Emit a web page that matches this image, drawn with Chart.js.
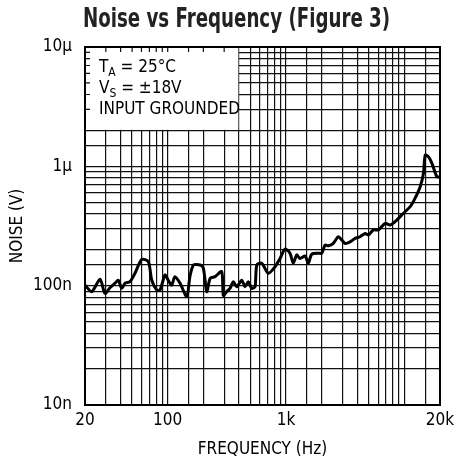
<!DOCTYPE html>
<html>
<head>
<meta charset="utf-8">
<script src="https://cdn.jsdelivr.net/npm/chart.js@4.4.1/dist/chart.umd.min.js"></script>
<style>
  html, body { margin: 0; padding: 0; background: #fff; }
  canvas { display: block; }
</style>
</head>
<body>
<canvas id="noise-chart" width="460" height="464"></canvas>
<script>
// frequency (Hz) and output noise (nV) along the measured trace
const freqHz = [20, 22.8, 26.8, 29.5, 32.5, 35.9, 38.2, 40.9, 43.6, 48,
    52.9, 60.3, 68.6, 73.3, 80.7, 86.1, 94.9, 101, 108, 115,
    127, 145, 154, 165, 188, 200, 214, 228, 251, 286,
    295, 315, 336, 359, 383, 422, 450, 480, 513, 547,
    566, 623, 709, 807, 890, 981, 1080, 1150, 1230, 1310,
    1450, 1540, 1650, 1880, 2000, 2140, 2280, 2510, 2770, 3150,
    3480, 3830, 4220, 4660, 4970, 5470, 6030, 6870, 7570, 8630,
    9810, 11200, 12300, 13600, 14500, 15000, 16000, 17100, 18800, 20000];
const noiseNv = [101, 89, 113, 86, 96, 105, 111, 95, 105, 108,
    127, 166, 159, 111, 92, 92, 123, 111, 101, 119,
    105, 81, 119, 149, 149, 140, 89, 115, 119, 131,
    83, 89, 95, 108, 98, 111, 98, 108, 95, 98,
    149, 154, 127, 144, 169, 203, 187, 154, 181, 169,
    177, 154, 184, 187, 187, 219, 216, 226, 257, 226,
    233, 249, 257, 274, 266, 293, 293, 333, 322, 355,
    404, 459, 539, 675, 874, 1240, 1200, 1060, 818, 818];

const xLabelAt = [20, 100, 1000, 20000];
const xLabelText = ['20', '100', '1k', '20k'];
const yLabelAt = [10, 100, 1000, 10000];
const yLabelText = ['10n', '100n', '1µ', '10µ'];

const chartTitle = 'Noise vs Frequency (Figure 3)';
const conditions = [
    ['T', 'A', ' = 25°C'],
    ['V', 'S', ' = ±18V'],
    ['INPUT GROUNDED', '', '']
];
// the conditions note hides the grid from 20Hz to 400Hz, 2µ to 10µ
const noteCornerHz = 400;
const noteCornerNv = 2000;

const FONT = "'Liberation Sans Narrow', 'DejaVu Sans Condensed', 'Liberation Sans', sans-serif";
Chart.defaults.font.family = FONT;
Chart.defaults.color = '#000';

const pickLabel = (at, text) => (value) => {
    const i = at.findIndex(v => Math.abs(v - value) / v < 1e-6);
    return i >= 0 ? text[i] : '';
};

const conditionsNote = {
    id: 'conditionsNote',
    beforeDatasetsDraw(chart) {
        const {ctx, chartArea, scales} = chart;
        const x0 = chartArea.left, y0 = chartArea.top;
        const x1 = scales.x.getPixelForValue(noteCornerHz);
        const y1 = scales.y.getPixelForValue(noteCornerNv);
        ctx.save();
        ctx.fillStyle = '#fff';
        ctx.fillRect(x0 + 1, y0 + 1, x1 - x0 - 1.6, y1 - y0 - 1.6);

        // short stubs of the grid left along the frame
        ctx.strokeStyle = '#111';
        ctx.lineWidth = 1.2;
        ctx.beginPath();
        scales.x.ticks.forEach(t => {
            if (t.value > 20 && t.value < noteCornerHz) {
                const px = scales.x.getPixelForValue(t.value);
                ctx.moveTo(px, y0);
                ctx.lineTo(px, y0 + 5);
            }
        });
        scales.y.ticks.forEach(t => {
            if (t.value > noteCornerNv && t.value < 10000) {
                const py = scales.y.getPixelForValue(t.value);
                ctx.moveTo(x0, py);
                ctx.lineTo(x0 + 5, py);
            }
        });
        ctx.stroke();

        ctx.fillStyle = '#000';
        ctx.textBaseline = 'alphabetic';
        ctx.textAlign = 'left';
        conditions.forEach((row, i) => {
            const by = y0 + 25 + i * 21;
            let tx = x0 + 14;
            ctx.font = '17px ' + FONT;
            ctx.fillText(row[0], tx, by);
            tx += ctx.measureText(row[0]).width;
            if (row[1]) {
                ctx.font = '12px ' + FONT;
                ctx.fillText(row[1], tx, by + 4);
                tx += ctx.measureText(row[1]).width;
            }
            ctx.font = '17px ' + FONT;
            ctx.fillText(row[2], tx, by);
        });
        ctx.restore();
    },
    afterDraw(chart) {
        const {ctx, chartArea} = chart;
        ctx.save();
        ctx.strokeStyle = '#000';
        ctx.lineWidth = 2;
        ctx.strokeRect(chartArea.left, chartArea.top,
            chartArea.right - chartArea.left, chartArea.bottom - chartArea.top);

        // condensed bold heading
        ctx.fillStyle = '#222';
        ctx.font = 'bold 27px ' + FONT;
        ctx.textAlign = 'center';
        ctx.textBaseline = 'alphabetic';
        ctx.translate(236.5, 27);
        ctx.scale(0.75, 1);
        ctx.fillText(chartTitle, 0, 0);
        ctx.restore();
    }
};

const config = {
    type: 'line',
    data: {
        datasets: [{
            data: freqHz.map((f, i) => ({x: f, y: noiseNv[i]})),
            borderColor: '#000',
            borderWidth: 3,
            pointRadius: 0,
            tension: 0.25,
            fill: false
        }]
    },
    options: {
        responsive: false,
        animation: false,
        events: [],
        layout: {
            padding: {left: 33, right: 20, top: 47, bottom: 0}
        },
        plugins: {
            legend: {display: false},
            tooltip: {enabled: false},
            title: {display: false}
        },
        scales: {
            x: {
                type: 'logarithmic',
                min: 20,
                max: 20000,
                afterFit: (scale) => { scale.height = 59; },
                grid: {color: '#111', lineWidth: 1.2, drawTicks: false},
                border: {color: '#000', width: 2},
                ticks: {
                    autoSkip: false,
                    maxRotation: 0,
                    padding: 5,
                    font: {size: 17},
                    callback: pickLabel(xLabelAt, xLabelText)
                },
                title: {
                    display: true,
                    text: 'FREQUENCY (Hz)',
                    font: {size: 17, lineHeight: 1.2},
                    padding: {top: 0, bottom: 4}
                }
            },
            y: {
                type: 'logarithmic',
                min: 10,
                max: 10000,
                afterFit: (scale) => { scale.width = 52; },
                grid: {color: '#111', lineWidth: 1.2, drawTicks: false},
                border: {color: '#000', width: 2},
                ticks: {
                    autoSkip: false,
                    padding: 13,
                    font: {size: 17},
                    callback: pickLabel(yLabelAt, yLabelText)
                },
                title: {
                    display: true,
                    text: 'NOISE (V)',
                    font: {size: 17, lineHeight: 1.2},
                    padding: {top: -26, bottom: 0}
                }
            }
        }
    },
    plugins: [conditionsNote]
};

new Chart(document.getElementById('noise-chart').getContext('2d'), config);
</script>
</body>
</html>
